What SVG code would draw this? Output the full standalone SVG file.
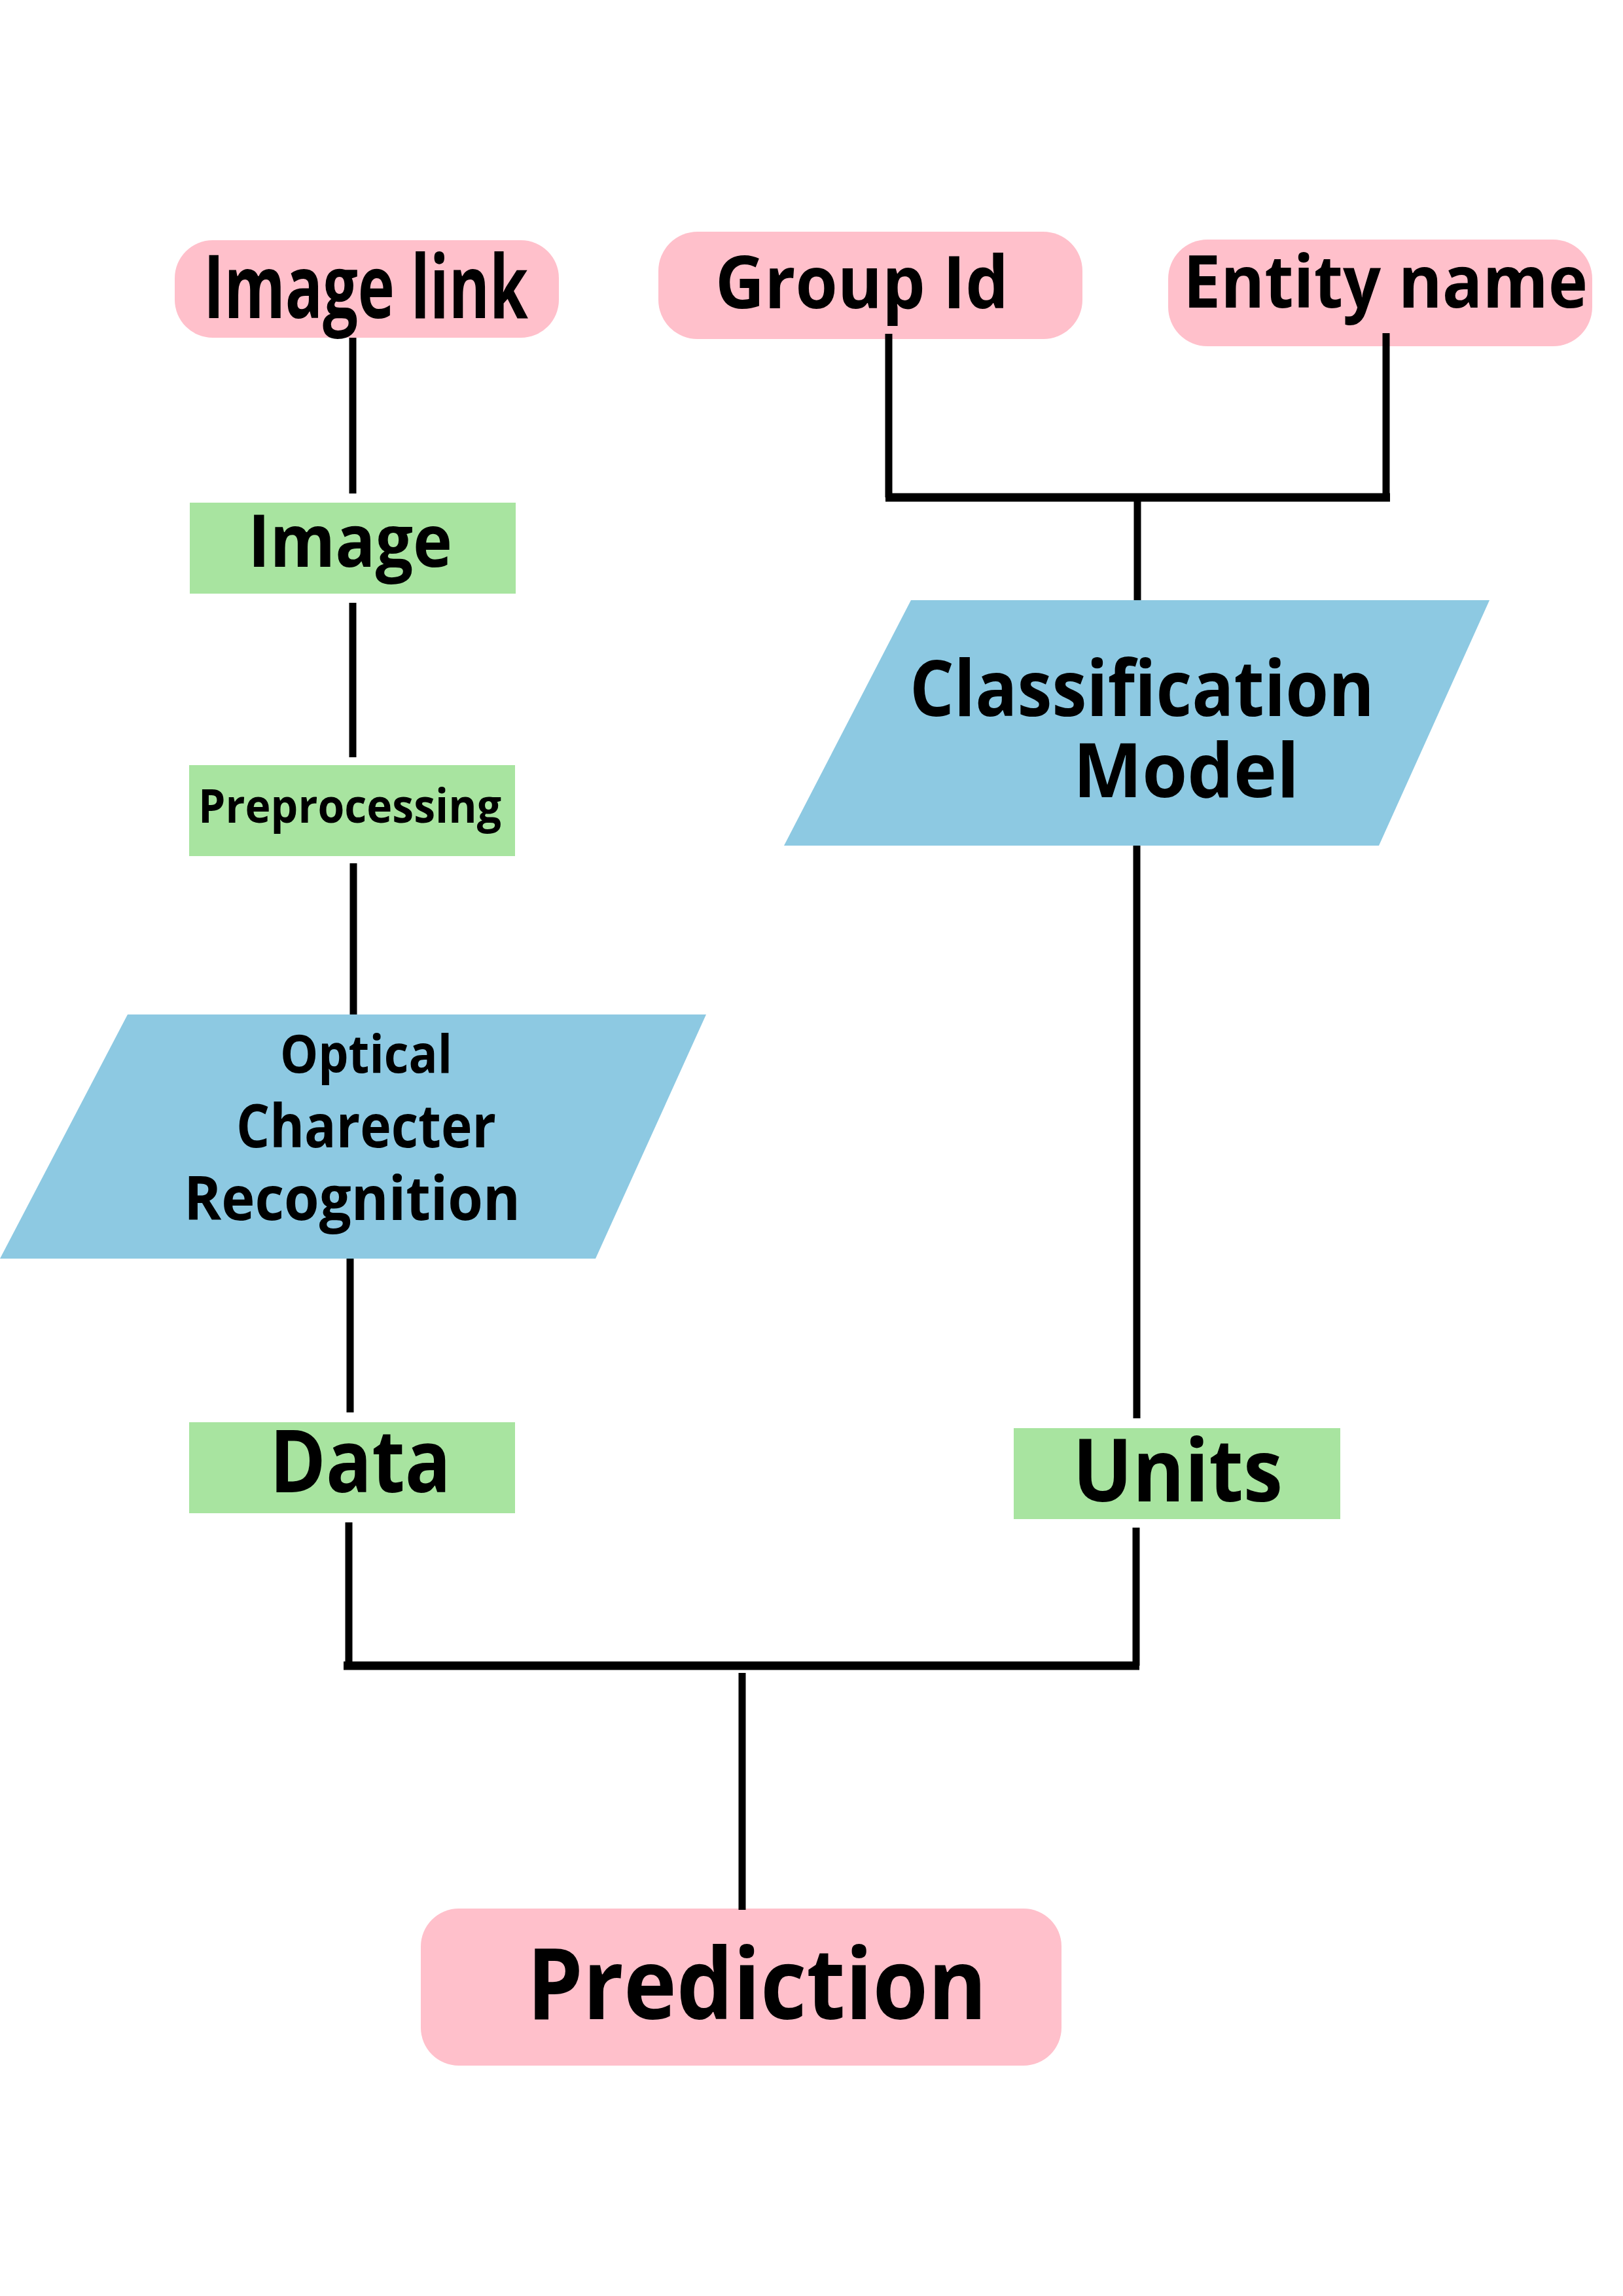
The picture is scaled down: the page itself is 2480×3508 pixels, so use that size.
<svg xmlns="http://www.w3.org/2000/svg" width="2480" height="3508" viewBox="0 0 2480 3508">
<style>
.pink{fill:#FFC0CB}
.green{fill:#A8E4A0}
.blue{fill:#8DC9E2}
.t{font-family:"Open Sans","Noto Sans","Liberation Sans",sans-serif;font-weight:700;fill:#000}
.c{stroke:#000;stroke-width:11;fill:none}
.h{stroke:#000;stroke-width:13;fill:none}
</style>
<rect width="2480" height="3508" fill="#fff"/>
<g id="image-link">
<rect class="pink" x="267" y="367" width="587" height="149" rx="58" ry="58"/>
<text class="t" x="311" y="486" font-size="134" textLength="496" lengthAdjust="spacingAndGlyphs">Image link</text>
</g>
<g id="group-id">
<rect class="pink" x="1006" y="354" width="648" height="164" rx="60" ry="60"/>
<text class="t" x="1093" y="471" font-size="111" textLength="448" lengthAdjust="spacingAndGlyphs">Group Id</text>
</g>
<g id="entity-name">
<rect class="pink" x="1785" y="366" width="648" height="163" rx="60" ry="60"/>
<text class="t" x="1808" y="470" font-size="111" textLength="618" lengthAdjust="spacingAndGlyphs">Entity name</text>
</g>
<g id="image">
<rect class="green" x="290" y="768" width="498" height="139"/>
<text class="t" x="379" y="866" font-size="112" textLength="312" lengthAdjust="spacingAndGlyphs">Image</text>
</g>
<g id="preprocessing">
<rect class="green" x="289" y="1169" width="498" height="139"/>
<text class="t" x="303" y="1257" font-size="71" textLength="463" lengthAdjust="spacingAndGlyphs">Preprocessing</text>
</g>
<g id="ocr">
<polygon class="blue" points="195,1550 1079,1550 910,1923 0,1923"/>
<text class="t" x="428" y="1639" font-size="81" textLength="263" lengthAdjust="spacingAndGlyphs">Optical</text>
<text class="t" x="361" y="1753" font-size="92" textLength="397" lengthAdjust="spacingAndGlyphs">Charecter</text>
<text class="t" x="281" y="1864" font-size="94" textLength="514" lengthAdjust="spacingAndGlyphs">Recognition</text>
</g>
<g id="classification-model">
<polygon class="blue" points="1392,917 2276,917 2107,1292 1198,1292"/>
<text class="t" x="1390" y="1094" font-size="118" textLength="710" lengthAdjust="spacingAndGlyphs">Classification</text>
<text class="t" x="1640" y="1218" font-size="115" textLength="345" lengthAdjust="spacingAndGlyphs">Model</text>
</g>
<g id="data">
<rect class="green" x="289" y="2173" width="498" height="139"/>
<text class="t" x="412" y="2280" font-size="133" textLength="277" lengthAdjust="spacingAndGlyphs">Data</text>
</g>
<g id="units">
<rect class="green" x="1549" y="2182" width="499" height="139"/>
<text class="t" x="1639" y="2294" font-size="133" textLength="321" lengthAdjust="spacingAndGlyphs">Units</text>
</g>
<g id="prediction">
<rect class="pink" x="643" y="2916" width="979" height="240" rx="58" ry="58"/>
<text class="t" x="805" y="3085" font-size="150" textLength="703" lengthAdjust="spacingAndGlyphs">Prediction</text>
</g>
<g id="connectors">
<line class="c" x1="539" y1="516" x2="539" y2="754"/>
<line class="c" x1="539" y1="921" x2="539" y2="1157"/>
<line class="c" x1="540" y1="1319" x2="540" y2="1550"/>
<line class="c" x1="535" y1="1923" x2="535" y2="2158"/>
<line class="c" x1="1358" y1="510" x2="1358" y2="760"/>
<line class="c" x1="2118" y1="509" x2="2118" y2="760"/>
<line class="h" x1="1353" y1="760" x2="2124" y2="760"/>
<line class="c" x1="1738" y1="766" x2="1738" y2="917"/>
<line class="c" x1="1737" y1="1292" x2="1737" y2="2167"/>
<line class="c" x1="533" y1="2326" x2="533" y2="2545"/>
<line class="c" x1="1736" y1="2334" x2="1736" y2="2545"/>
<line class="h" x1="525" y1="2545" x2="1741" y2="2545"/>
<line class="c" x1="1134" y1="2556" x2="1134" y2="2918"/>
</g>
</svg>
